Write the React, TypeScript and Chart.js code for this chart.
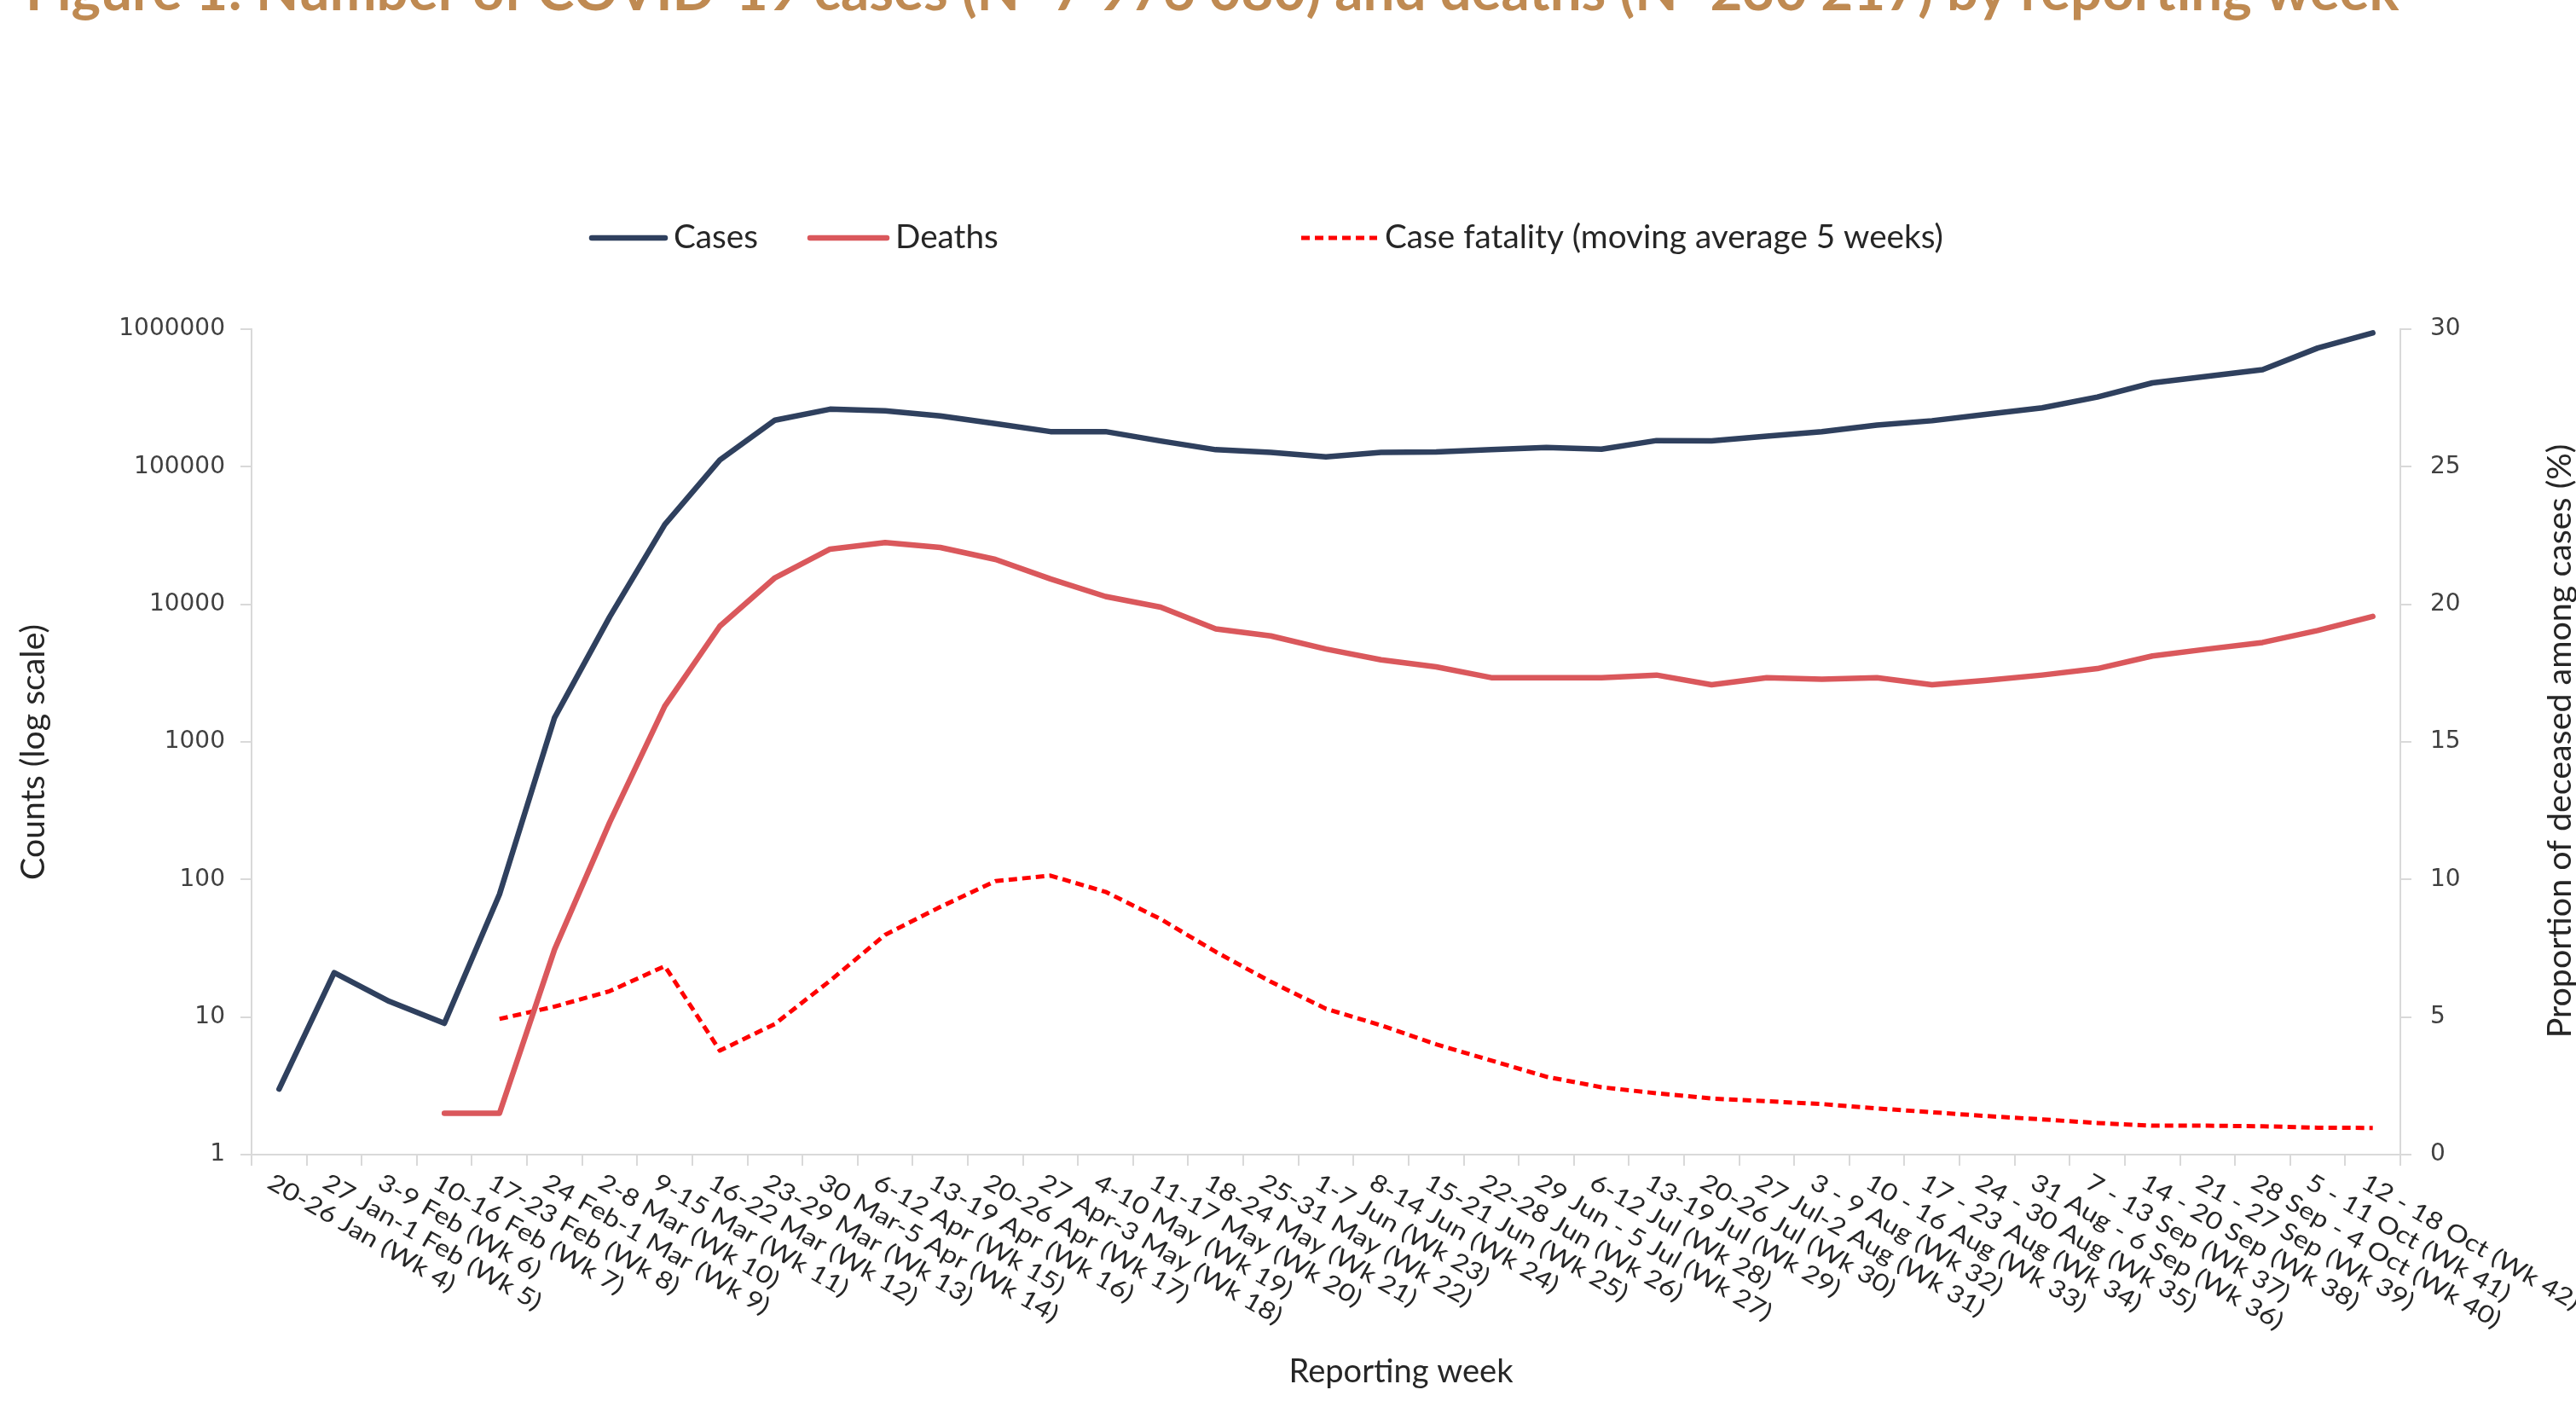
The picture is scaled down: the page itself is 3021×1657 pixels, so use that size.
import React, { useEffect, useRef } from "react";
import { Chart, registerables } from "chart.js";

Chart.register(...registerables);

const TITLE =
  "Figure 1: Number of COVID-19 cases (N=7 976 080) and deaths (N=230 217) by reporting week";

const weekLabels = [
  "20-26 Jan (Wk 4)", "27 Jan-1 Feb (Wk 5)", "3-9 Feb (Wk 6)", "10-16 Feb (Wk 7)",
  "17-23 Feb (Wk 8)", "24 Feb-1 Mar (Wk 9)", "2-8 Mar (Wk 10)", "9-15 Mar (Wk 11)",
  "16-22 Mar (Wk 12)", "23-29 Mar (Wk 13)", "30 Mar-5 Apr (Wk 14)", "6-12 Apr (Wk 15)",
  "13-19 Apr (Wk 16)", "20-26 Apr (Wk 17)", "27 Apr-3 May (Wk 18)", "4-10 May (Wk 19)",
  "11-17 May (Wk 20)", "18-24 May (Wk 21)", "25-31 May (Wk 22)", "1-7 Jun (Wk 23)",
  "8-14 Jun (Wk 24)", "15-21 Jun (Wk 25)", "22-28 Jun (Wk 26)", "29 Jun - 5 Jul (Wk 27)",
  "6-12 Jul (Wk 28)", "13-19 Jul (Wk 29)", "20-26 Jul (Wk 30)", "27 Jul-2 Aug (Wk 31)",
  "3 - 9 Aug (Wk 32)", "10 - 16 Aug (Wk 33)", "17 - 23 Aug (Wk 34)", "24 - 30 Aug (Wk 35)",
  "31 Aug - 6 Sep (Wk 36)", "7 - 13 Sep (Wk 37)", "14 - 20 Sep (Wk 38)", "21 - 27 Sep (Wk 39)",
  "28 Sep - 4 Oct (Wk 40)", "5 - 11 Oct (Wk 41)", "12 - 18 Oct (Wk 42)",
];

const cases = [
  3, 21, 13, 9, 78, 1500, 8100, 38000, 112000, 218000, 262000, 255000, 234000,
  206000, 180000, 180000, 154000, 133000, 127000, 118000, 127000, 128000, 133000,
  138000, 134000, 155000, 154000, 167000, 180000, 201000, 216000, 241000, 268000,
  321000, 407000, 454000, 507000, 729000, 940000,
];

const deaths = [
  null, null, null, 2, 2, 31, 260, 1820, 6940, 15600, 25200, 28100, 25900, 21200,
  15300, 11400, 9530, 6630, 5890, 4730, 3950, 3510, 2930, 2930, 2930, 3060, 2600,
  2930, 2850, 2930, 2600, 2800, 3060, 3410, 4210, 4730, 5280, 6450, 8170,
];

const caseFatality = [
  null, null, null, null, 4.93, 5.38, 5.94, 6.85, 3.78, 4.75, 6.32, 7.99, 9.0, 9.94,
  10.14, 9.55, 8.56, 7.37, 6.28, 5.3, 4.7, 4.01, 3.42, 2.83, 2.45, 2.23, 2.04, 1.94,
  1.84, 1.68, 1.54, 1.4, 1.28, 1.15, 1.05, 1.05, 1.03, 0.98, 0.97,
];

const countTicks = [1, 10, 100, 1000, 10000, 100000, 1000000];
const seriesNames = ["Cases", "Deaths", "Case fatality (moving average 5 weeks)"];
const xAxisTitle = "Reporting week";
const yAxisTitle = "Counts (log scale)";
const y2AxisTitle = "Proportion of deceased among cases (%)";

const W = 3021;
const H = 1657;
const NAVY = "#2F405E";
const RED = "#DA585C";
const BRIGHT = "#FF0000";
const AXIS = "#D9D9D9";
const TEXT = "#262626";
const TICK_TEXT = "#404040";
const TITLE_COLOR = "#BF8A52";

function fitSize(ctx: CanvasRenderingContext2D, text: string, weight: string, family: string, target: number) {
  ctx.font = `${weight} 100px ${family}`;
  const w = ctx.measureText(text).width;
  return (100 * target) / w;
}

const decor = {
  id: "decor",
  afterDraw(chart: any) {
    const ctx: CanvasRenderingContext2D = chart.ctx;
    const xs = chart.scales.x;
    const area = chart.chartArea;
    ctx.save();

    // Title (cut off at the top as in the source)
    const ts = fitSize(ctx, TITLE, "bold", "Lato", 2784);
    ctx.font = `bold ${ts}px Lato`;
    ctx.fillStyle = TITLE_COLOR;
    ctx.textAlign = "left";
    ctx.textBaseline = "alphabetic";
    ctx.fillText(TITLE, 30, 12);

    // Legend
    const ly = 279;
    const legendItems = [
      { x0: 694, x1: 780, tx: 790, tw: 96, color: NAVY, width: 6.5, dash: [] as number[] },
      { x0: 950, x1: 1040, tx: 1050, tw: 120, color: RED, width: 6.5, dash: [] as number[] },
      { x0: 1526, x1: 1615, tx: 1624, tw: 655, color: BRIGHT, width: 5, dash: [10, 6] },
    ];
    const legSize = fitSize(ctx, seriesNames[2], "", "Lato", 655);
    legendItems.forEach((it, i) => {
      ctx.beginPath();
      ctx.setLineDash(it.dash);
      ctx.lineCap = it.dash.length ? "butt" : "round";
      ctx.strokeStyle = it.color;
      ctx.lineWidth = it.width;
      ctx.moveTo(it.x0, ly);
      ctx.lineTo(it.x1, ly);
      ctx.stroke();
      ctx.setLineDash([]);
      ctx.font = `${legSize}px Lato`;
      ctx.fillStyle = TEXT;
      ctx.textAlign = "left";
      ctx.textBaseline = "middle";
      ctx.fillText(seriesNames[i], it.tx, ly);
    });

    // X tick labels, rotated downwards to the right
    ctx.font = "28px Lato";
    const refW = ctx.measureText("12 - 18 Oct (Wk 42)").width;
    const stretch = 290 / refW;
    const angle = (30 * Math.PI) / 180;
    ctx.fillStyle = TEXT;
    ctx.textAlign = "left";
    ctx.textBaseline = "top";
    weekLabels.forEach((lab, i) => {
      const x = xs.getPixelForValue(i) - 4;
      ctx.save();
      ctx.translate(x, area.bottom + 18);
      ctx.rotate(angle);
      ctx.scale(stretch, 1);
      ctx.fillText(lab, 0, 0);
      ctx.restore();
    });

    // X axis title
    const xt = fitSize(ctx, xAxisTitle, "", "Lato", 263);
    ctx.font = `${xt}px Lato`;
    ctx.textAlign = "center";
    ctx.textBaseline = "middle";
    ctx.fillText(xAxisTitle, 1643, 1609);

    // Left axis title
    const yt = fitSize(ctx, yAxisTitle, "", "Lato", 300);
    ctx.save();
    ctx.translate(39, 882);
    ctx.rotate(-Math.PI / 2);
    ctx.font = `${yt}px Lato`;
    ctx.fillText(yAxisTitle, 0, 0);
    ctx.restore();

    // Right axis title
    const y2t = fitSize(ctx, y2AxisTitle, "", "Lato", 697);
    ctx.save();
    ctx.translate(3002, 869);
    ctx.rotate(-Math.PI / 2);
    ctx.font = `${y2t}px Lato`;
    ctx.fillText(y2AxisTitle, 0, 0);
    ctx.restore();

    ctx.restore();
  },
};

export default function App() {
  const ref = useRef<HTMLCanvasElement>(null);

  useEffect(() => {
    let chart: any = null;
    let dead = false;
    const fontsApi: any = (document as any).fonts;
    const ready = fontsApi
      ? Promise.all(["28px Lato", "bold 60px Lato", "28px 'DejaVu Sans'"].map((f) => fontsApi.load(f))).catch(() => null)
      : Promise.resolve(null);

    ready.then(() => {
      if (dead || !ref.current) return;
      chart = new Chart(ref.current, {
        type: "line",
        data: {
          labels: weekLabels,
          datasets: [
            {
              label: seriesNames[0],
              data: cases,
              yAxisID: "y",
              borderColor: NAVY,
              backgroundColor: NAVY,
              borderWidth: 6.5,
              pointRadius: 0,
              borderCapStyle: "round",
              borderJoinStyle: "round",
              tension: 0,
            },
            {
              label: seriesNames[1],
              data: deaths,
              yAxisID: "y",
              borderColor: RED,
              backgroundColor: RED,
              borderWidth: 6.5,
              pointRadius: 0,
              borderCapStyle: "round",
              borderJoinStyle: "round",
              tension: 0,
            },
            {
              label: seriesNames[2],
              data: caseFatality,
              yAxisID: "y2",
              borderColor: BRIGHT,
              backgroundColor: BRIGHT,
              borderWidth: 5,
              borderDash: [10, 6],
              pointRadius: 0,
              borderJoinStyle: "round",
              tension: 0,
            },
          ],
        } as any,
        options: {
          animation: false,
          responsive: false,
          devicePixelRatio: 1,
          layout: { padding: { top: 386, left: 0, right: 0, bottom: 0 } },
          plugins: {
            legend: { display: false },
            title: { display: false },
            tooltip: { enabled: false },
          },
          scales: {
            x: {
              type: "category",
              offset: true,
              grid: {
                offset: true,
                drawOnChartArea: false,
                drawTicks: true,
                tickLength: 13,
                color: AXIS,
                lineWidth: 2,
              },
              border: { color: AXIS, width: 2 },
              ticks: { display: false },
              afterFit: (s: any) => {
                s.height = H - 1354;
              },
            },
            y: {
              type: "logarithmic",
              position: "left",
              min: 1,
              max: 1000000,
              afterBuildTicks: (s: any) => {
                s.ticks = countTicks.map((v) => ({ value: v }));
              },
              ticks: {
                callback: (v: any) => String(v),
                font: { family: "'DejaVu Sans'", size: 28 },
                color: TICK_TEXT,
                padding: 18,
                autoSkip: false,
              },
              grid: {
                drawOnChartArea: false,
                tickLength: 13,
                color: AXIS,
                lineWidth: 2,
              },
              border: { color: AXIS, width: 2 },
              afterFit: (s: any) => {
                s.width = 295;
              },
            },
            y2: {
              type: "linear",
              position: "right",
              min: 0,
              max: 30,
              ticks: {
                stepSize: 5,
                font: { family: "'DejaVu Sans'", size: 28 },
                color: TICK_TEXT,
                padding: 22,
              },
              grid: {
                drawOnChartArea: false,
                tickLength: 13,
                color: AXIS,
                lineWidth: 2,
              },
              border: { color: AXIS, width: 2 },
              afterFit: (s: any) => {
                s.width = W - 2815;
              },
            },
          },
        } as any,
        plugins: [decor],
      });
    });

    return () => {
      dead = true;
      if (chart) chart.destroy();
    };
  }, []);

  return (
    <div style={{ position: "absolute", left: 0, top: 0, width: W, height: H, background: "#ffffff" }}>
      <canvas ref={ref} width={W} height={H} style={{ display: "block", width: W, height: H }} />
    </div>
  );
}
